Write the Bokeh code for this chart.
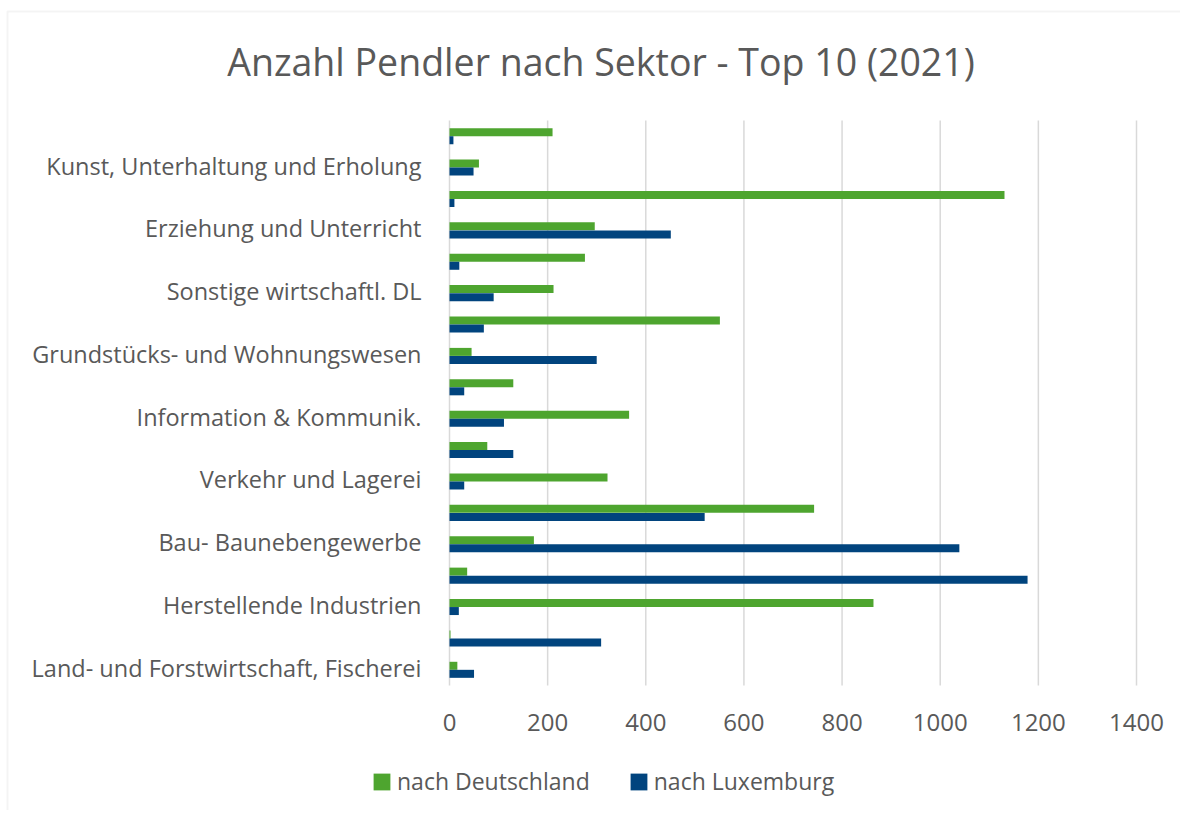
from bokeh.plotting import figure
from bokeh.models import (Range1d, Label, Legend, LegendItem,
                          BoxAnnotation, ColumnDataSource)
from bokeh.transform import dodge
from bokeh.core.properties import value
from bokeh.embed import file_html
from bokeh.resources import INLINE

# ---- data (bottom to top, as drawn) ----
categories = [
    "Land- und Forstwirtschaft, Fischerei", "",
    "Herstellende Industrien", "",
    "Bau- Baunebengewerbe", "",
    "Verkehr und Lagerei", "",
    "Information & Kommunik.", "",
    "Grundstücks- und Wohnungswesen", "",
    "Sonstige wirtschaftl. DL", "",
    "Erziehung und Unterricht", "",
    "Kunst, Unterhaltung und Erholung", "",
]
nach_deutschland = [16, 2, 864, 36, 172, 743, 322, 77, 366, 130,
                    45, 551, 212, 276, 296, 1131, 60, 210]
nach_luxemburg = [50, 309, 19, 1178, 1039, 520, 30, 130, 111, 30,
                  300, 70, 90, 20, 451, 10, 49, 8]
x_ticks = [0, 200, 400, 600, 800, 1000, 1200, 1400]
x_tick_labels = ["0", "200", "400", "600", "800", "1000", "1200", "1400"]
series_names = ["nach Deutschland", "nach Luxemburg"]
title_text = "Anzahl Pendler nach Sektor - Top 10 (2021)"

# ---- style ----
GREEN = "#4ea52f"
BLUE = "#01447e"
TEXT = "#595959"
GRID = "#d9d9d9"
FONT = "Open Sans"
W, H = 1180, 810
# plot area in pixels
PL, PR, PT, PB = 449, 1136, 120, 685

n = len(categories)
y_lo, y_hi = -0.5, n - 0.5
kx = (PR - PL) / (x_ticks[-1] - x_ticks[0])
ky = (PB - PT) / (y_hi - y_lo)


def px_x(px):
    return x_ticks[0] + (px - PL) / kx


def px_y(py):
    return y_lo + (PB - py) / ky


pos = list(range(n))
src = ColumnDataSource(dict(y=pos, de=nach_deutschland, lu=nach_luxemburg,
                            cat=categories))
tsrc = ColumnDataSource(dict(x=x_ticks, lab=x_tick_labels))

p = figure(width=W, height=H, output_backend="svg", toolbar_location=None,
           x_range=Range1d(px_x(0), px_x(W)),
           y_range=Range1d(px_y(H), px_y(0)),
           min_border=0, x_axis_type=None, y_axis_type=None)
p.outline_line_color = None
p.grid.visible = False
p.background_fill_color = "white"
p.border_fill_color = "white"

# vertical gridlines
p.segment(x0="x", x1="x", y0=y_lo, y1=y_hi, source=tsrc,
          line_color=GRID, line_width=1.5)

# bars
r_de = p.hbar(y=dodge("y", 0.128), left=0, right="de",
              height=0.255, fill_color=GREEN, line_color=None, source=src)
r_lu = p.hbar(y=dodge("y", -0.128), left=0, right="lu",
              height=0.255, fill_color=BLUE, line_color=None, source=src)

# category labels (y axis)
p.text(x=x_ticks[0], y="y", text="cat", source=src, x_offset=-28, y_offset=-2,
       text_align="right", text_baseline="middle",
       text_font=value(FONT), text_font_size="23.5px", text_color=TEXT)

# value labels (x axis)
p.text(x="x", y=y_lo, text="lab", source=tsrc, y_offset=37,
       text_align="center", text_baseline="middle",
       text_font=value(FONT), text_font_size="24px", text_color=TEXT)

# title
p.add_layout(Label(x=px_x(600.5), y=px_y(61), text=title_text,
                   text_align="center", text_baseline="middle",
                   text_font=FONT, text_font_size="37.5px", text_color=TEXT))

# legend
legend = Legend(items=[LegendItem(label=series_names[0], renderers=[r_de]),
                       LegendItem(label=series_names[1], renderers=[r_lu])],
                orientation="horizontal", location=(371, H - 797),
                padding=0, margin=0, spacing=38, label_standoff=5,
                glyph_width=21, glyph_height=21,
                border_line_color=None, background_fill_alpha=0,
                label_text_font=FONT, label_text_font_size="23px",
                label_text_color=TEXT)
p.add_layout(legend, "center")

# outer chart border
p.add_layout(BoxAnnotation(left=px_x(7), right=px_x(W + 50),
                           top=px_y(11), bottom=px_y(H + 50),
                           fill_alpha=0, line_color=GRID, line_width=2))

open("out.html", "w").write(file_html(p, INLINE))
